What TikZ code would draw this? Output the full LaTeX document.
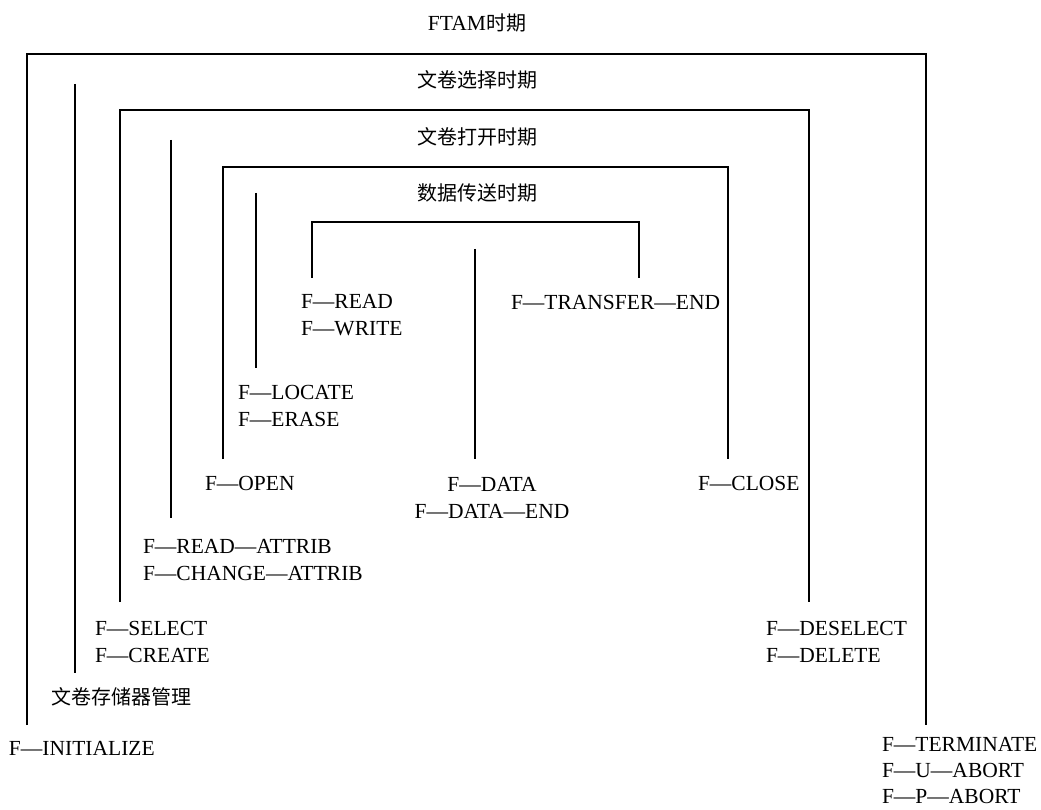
\documentclass[tikz,border=0pt]{standalone}
\usepackage{fontspec}
\setmainfont{Liberation Serif}
\newfontfamily\cjk{Noto Sans CJK SC}
\begin{document}
\begin{tikzpicture}[x=1pt,y=-1pt,
  lbl/.style={inner sep=0pt, outer sep=0pt, align=left, anchor=west,
    font=\fontsize{21.5}{27}\selectfont},
  ttl/.style={inner sep=0pt, outer sep=0pt, anchor=center,
    font=\fontsize{20}{27}\selectfont},
  frame/.style={draw=black, line width=1.2pt, line join=miter}]
\useasboundingbox (0,0) rectangle (1041,810);

% titles
\node[ttl] (t0) at (477,23) {{\fontsize{21.5}{27}\selectfont FTAM}{\cjk 时期}};
\node[ttl] (t1) at (477,80) {\cjk 文卷选择时期};
\node[ttl] (t2) at (477,137) {\cjk 文卷打开时期};
\node[ttl] (t3) at (477,193) {\cjk 数据传送时期};

% frames
\draw[frame] (27,725) -- (27,54) -- (926,54) -- (926,725);
\draw[frame] (75,84) -- (75,673);
\draw[frame] (120,602) -- (120,110) -- (809,110) -- (809,602);
\draw[frame] (171,140) -- (171,518);
\draw[frame] (223,459) -- (223,167) -- (728,167) -- (728,459);
\draw[frame] (256,193) -- (256,368);
\draw[frame] (312,278) -- (312,222) -- (639,222) -- (639,278);
\draw[frame] (475,249) -- (475,459);

% labels
\node[lbl] (rw) at (301,315.5) {F—READ\\F—WRITE};
\node[lbl] (te) at (511,302) {F—TRANSFER—END};
\node[lbl] (le) at (238,406) {F—LOCATE\\F—ERASE};
\node[lbl] (op) at (205,483) {F—OPEN};
\node[lbl, anchor=center, align=center] (da) at (492,497.5) {F—DATA\\F—DATA—END};
\node[lbl] (cl) at (698,483) {F—CLOSE};
\node[lbl] (at) at (143,560) {F—READ—ATTRIB\\F—CHANGE—ATTRIB};
\node[lbl] (sc) at (95,641.5) {F—SELECT\\F—CREATE};
\node[lbl] (dd) at (766,641.5) {F—DESELECT\\F—DELETE};
\node[lbl, font=\fontsize{20}{27}\selectfont] (sm) at (51,697) {\cjk 文卷存储器管理};
\node[lbl] (in) at (9,748) {F—INITIALIZE};
\node[lbl, font=\fontsize{21.5}{26}\selectfont] (tm) at (882,771) {F—TERMINATE\\F—U—ABORT\\F—P—ABORT};
\end{tikzpicture}
\end{document}
